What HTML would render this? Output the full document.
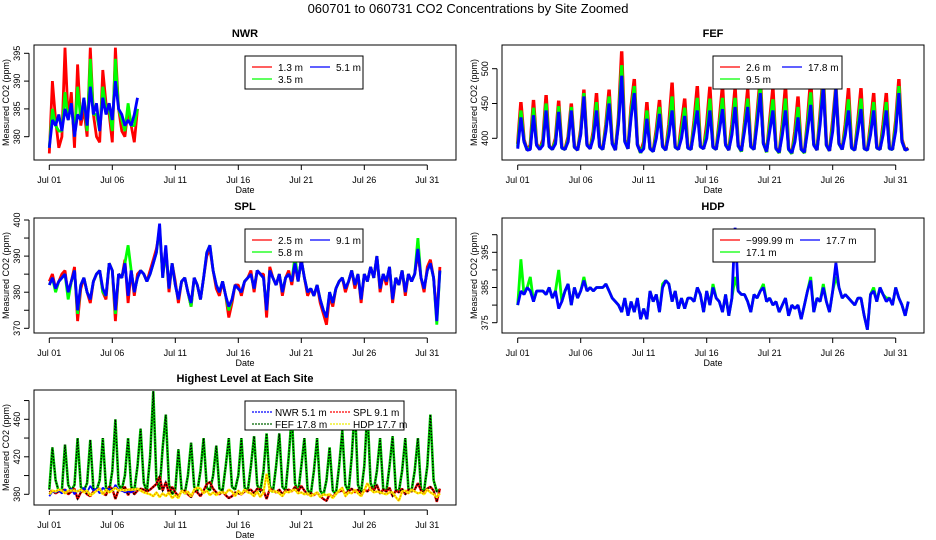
<!DOCTYPE html>
<html><head><meta charset="utf-8"><style>
html,body{margin:0;padding:0;background:#fff}
svg{display:block;font-family:"Liberation Sans",sans-serif}
</style></head><body>
<svg id="c" width="936" height="540" viewBox="0 0 936 540">
<text x="468" y="13" text-anchor="middle" font-size="13">060701  to  060731 CO2 Concentrations by Site Zoomed</text>
</svg>
<script>
const dayTicks = [0,5,10,15,20,25,30];
const dayLabels = ["Jul 01","Jul 06","Jul 11","Jul 16","Jul 21","Jul 26","Jul 31"];
const ptsPerDay = 4;

const nwr13 = [377,390,383,378,380,396,383,388,378,393,382,385,380,396,384,380,379,392,386,384,379,396,385,381,380,385,382,379,385];
const nwr35 = [378,385,382,381,381,388,383,386,380,389,383,387,381,394,384,384,381,389,385,385,381,394,385,383,381,386,382,382,385];
const nwr51 = [378,383,382,384,381,385,383,386,380,384,383,387,382,389,384,386,381,387,384,386,383,390,385,384,382,383,382,384,387];

const fef26 = [392,452,398,383,390,455,392,384,398,462,389,384,400,454,387,384,402,450,388,383,412,470,392,385,410,465,389,384,420,470,394,383,430,525,398,385,445,485,392,379,395,452,386,381,412,455,389,383,420,480,388,384,420,457,387,384,425,475,389,385,420,474,388,384,425,475,392,383,420,472,390,381,422,470,389,384,435,488,394,380,425,472,386,379,420,475,385,378,410,460,385,379,425,485,392,383,435,492,391,382,425,475,393,384,420,472,387,383,425,472,386,383,420,465,387,384,420,465,386,384,425,485,398,383,386];
const fef95 = [388,440,396,383,387,444,391,384,394,450,388,384,396,446,386,384,398,445,387,383,408,465,391,385,405,452,388,384,415,460,393,383,425,505,396,385,437,475,391,379,390,440,385,381,406,445,388,383,412,460,387,384,410,444,386,384,418,458,388,385,410,457,387,384,418,458,391,383,412,458,389,381,416,457,388,384,428,476,393,380,418,456,385,379,412,457,384,378,402,445,384,379,418,466,391,383,428,483,390,382,418,472,392,384,412,456,386,383,418,457,385,383,412,452,386,384,412,452,385,384,418,475,396,383,385];
const fef178 = [385,430,395,383,384,433,390,384,390,440,388,384,392,438,386,384,395,440,387,383,405,460,390,385,400,440,388,384,410,450,392,383,420,490,395,385,430,465,390,380,385,428,385,381,400,435,388,383,405,440,387,384,400,432,386,384,410,440,388,385,400,440,387,384,410,442,390,383,405,445,389,382,410,445,388,384,420,465,392,381,410,440,385,380,405,440,384,379,395,430,384,380,410,448,390,383,420,475,390,382,410,470,392,384,405,440,386,383,410,442,385,383,405,440,386,384,405,440,385,384,410,465,395,383,385];

const spl25 = [383,385,381,383,385,386,379,383,387,372,381,384,380,377,383,385,386,380,378,388,386,372,385,384,389,377,386,379,385,386,385,383,386,389,392,397,385,392,380,388,383,377,383,384,380,376,384,382,378,384,390,392,386,381,379,383,379,373,377,382,382,379,383,384,386,380,386,385,385,373,387,384,382,385,379,384,386,382,388,383,389,384,379,381,379,382,377,374,371,379,376,381,383,384,380,383,386,381,385,377,385,383,387,384,390,380,385,382,387,377,384,382,386,379,385,383,385,391,384,380,387,389,384,373,387];
const spl58 = [382,384,380,383,384,385,378,383,386,374,382,384,380,378,383,385,386,380,379,388,386,374,385,384,388,393,386,380,384,386,385,383,385,388,391,398,384,392,381,388,382,378,383,384,380,376,384,382,378,384,391,393,386,382,380,383,379,375,378,382,381,380,383,384,385,381,386,385,384,375,386,384,382,385,380,384,385,383,390,383,389,384,380,381,379,382,378,375,373,380,377,381,383,384,381,383,386,382,385,378,385,383,387,384,390,381,385,383,387,378,384,382,386,380,385,383,385,395,384,381,386,388,384,371,386];
const spl91 = [382,384,381,383,384,385,380,383,386,375,382,384,380,378,383,385,386,381,379,388,386,375,385,384,388,379,386,380,384,386,385,383,385,388,391,399,384,393,381,388,382,378,383,384,380,377,384,382,378,384,391,393,386,382,380,383,379,376,378,382,381,380,383,384,385,381,386,385,384,375,386,384,382,385,380,384,385,383,388,383,389,384,380,381,379,382,378,375,373,380,377,381,383,384,381,383,386,382,385,378,385,383,387,384,390,381,385,383,387,378,384,382,386,380,385,383,385,392,384,381,386,388,384,372,386];

const hdp171 = [380,393,383,385,388,381,384,384,384,383,385,382,384,390,381,384,386,380,385,382,384,388,384,385,384,385,385,385,386,384,382,381,380,378,382,377,381,378,382,376,379,376,384,381,383,378,386,387,386,381,384,379,382,379,382,382,381,385,383,378,384,380,386,382,381,378,383,377,382,388,384,383,383,381,378,383,382,384,386,381,382,380,381,378,380,382,377,380,379,380,376,380,384,388,378,382,381,386,381,378,384,388,385,382,383,382,381,380,382,382,377,373,383,385,381,385,383,382,382,380,385,382,380,377,381];
const hdp177 = [380,384,383,385,384,381,384,384,384,383,385,382,384,379,381,384,386,380,385,382,384,387,384,385,384,385,385,385,386,384,382,381,380,378,382,377,381,378,382,376,379,376,384,381,383,378,385,387,386,381,384,379,382,379,382,382,381,385,383,378,384,380,385,382,381,378,383,377,382,402,384,383,383,381,378,383,382,384,385,381,382,380,381,378,380,382,377,380,379,380,376,380,384,387,378,382,381,385,381,378,384,392,385,382,383,382,381,380,382,382,377,373,383,384,381,385,383,381,382,380,385,382,380,377,381];

const NS = "http://www.w3.org/2000/svg";
const svg = document.getElementById("c");
function mk(tag, attrs, parent){
  const e = document.createElementNS(NS, tag);
  for (const k in attrs) e.setAttribute(k, attrs[k]);
  (parent||svg).appendChild(e);
  return e;
}

function panel(cfg){
  const g = mk("g", {});
  
  
  const L=cfg.left, R=cfg.left+422, T=cfg.top, B=cfg.top+115;
  const xs = d => cfg.x0 + d*12.6;
  const ys = v => cfg.y0 + (v - cfg.v0) * (cfg.y1 - cfg.y0) / (cfg.v1 - cfg.v0);
  const t = mk("text", {x:(L+R)/2, y:T-8, "text-anchor":"middle", "font-size":"11", "font-weight":"bold"}, g);
  t.textContent = cfg.title;
  
  
  const clip = mk("clipPath", {id:"cl"+cfg.name}, g);
  mk("rect", {x:L, y:T, width:R-L, height:B-T}, clip);
  const sg = mk("g", {"clip-path":"url(#cl"+cfg.name+")"}, g);
  cfg.series.forEach(s => {
    const pts = s.data.map((v,i) => xs(i/ptsPerDay).toFixed(1)+","+ys(v).toFixed(1)).join(" ");
    const p = mk("polyline", {points:pts, fill:"none", stroke:s.color, "stroke-width":s.w||2.8, "stroke-linejoin":"bevel"}, sg);
    
    
    if (s.dash) {
      const p2 = mk("polyline", {points:pts, fill:"none", stroke:s.dash, "stroke-width":1.4, "stroke-dasharray":"1.5,1.5"}, sg);
      
      
    }
  });
  const box = mk("rect", {x:L, y:T, width:R-L, height:B-T, fill:"none", stroke:"#000", "stroke-width":1}, g);
  
  
  mk("line", {x1:xs(dayTicks[0]), x2:xs(dayTicks[dayTicks.length-1]), y1:B+5, y2:B+5, stroke:"#000"}, g);
  dayTicks.forEach((d,i) => {
    mk("line", {x1:xs(d), x2:xs(d), y1:B+5, y2:B+10, stroke:"#000"}, g);
    const tl = mk("text", {x:xs(d), y:B+23, "text-anchor":"middle", "font-size":"9"}, g);
    tl.textContent = dayLabels[i];
    
    
  });
  const xt = mk("text", {x:(L+R)/2, y:B+33, "text-anchor":"middle", "font-size":"9"}, g);
  xt.textContent = "Date";
  
  
  mk("line", {x1:L-5, x2:L-5, y1:ys(cfg.ticks[0]), y2:ys(cfg.ticks[cfg.ticks.length-1]), stroke:"#000"}, g);
  cfg.ticks.forEach(v => {
    mk("line", {x1:L-10, x2:L-5, y1:ys(v), y2:ys(v), stroke:"#000"}, g);
    if (cfg.labels.includes(v)) {
      const yl = mk("text", {x:0, y:0, "text-anchor":"middle", "font-size":"9", transform:"translate("+(L-14)+","+ys(v)+") rotate(-90)"}, g);
      yl.textContent = v;
      
      
    }
  });
  const yt = mk("text", {x:0, y:0, "text-anchor":"middle", "font-size":"9", transform:"translate("+(L-25)+","+(T+B)/2+") rotate(-90)"}, g);
  yt.textContent = "Measured CO2 (ppm)";
  
  
  const lg = cfg.legend;
  const lb = mk("rect", {x:lg.x, y:lg.y, width:lg.w, height:lg.h, fill:"#fff", stroke:"#000"}, g);
  
  
  lg.items.forEach((it,i) => {
    const col = i<2 ? 0 : 1, row = i%2;
    const ix = lg.x + 7 + col*lg.colW, iy = lg.y + 11 + row*lg.rowH;
    mk("line", {x1:ix, x2:ix+20, y1:iy, y2:iy, stroke:it.color, "stroke-width":1.2, "stroke-dasharray":it.dash?"2,1":"none"}, g);
    const tx = mk("text", {x:ix+lg.tOff, y:iy+4, "font-size":"10"}, g);
    tx.textContent = it.label;
    
    
  });
}

panel({name:"nwr", title:"NWR", left:34, top:45, x0:49.3, v0:380, y0:136.7, v1:395, y1:53.3,
  ticks:[380,385,390,395], labels:[380,385,390,395],
  series:[{id:"nwr-1-3m",data:nwr13,color:"#f00"},{id:"nwr-3-5m",data:nwr35,color:"#0f0"},{id:"nwr-5-1m",data:nwr51,color:"#00f"}],
  legend:{x:245,y:56,w:118,h:33,colW:58,rowH:12,tOff:26,items:[{label:"1.3 m",color:"#f00"},{label:"3.5 m",color:"#0f0"},{label:"5.1 m",color:"#00f"}]}});

panel({name:"fef", title:"FEF", left:502, top:45, x0:517.7, v0:400, y0:138.3, v1:500, y1:68.7,
  ticks:[400,450,500], labels:[400,450,500],
  series:[{id:"fef-2-6m",data:fef26,color:"#f00",w:3.4},{id:"fef-9-5m",data:fef95,color:"#0f0",w:3.2},{id:"fef-17-8m",data:fef178,color:"#00f",w:3}],
  legend:{x:713,y:56,w:129,h:33,colW:62,rowH:12,tOff:26,items:[{label:"2.6 m",color:"#f00"},{label:"9.5 m",color:"#0f0"},{label:"17.8 m",color:"#00f"}]}});

panel({name:"spl", title:"SPL", left:34, top:218, x0:49.3, v0:370, y0:328.3, v1:400, y1:220,
  ticks:[370,375,380,385,390,395,400], labels:[370,380,390,400],
  series:[{id:"spl-2-5m",data:spl25,color:"#f00"},{id:"spl-5-8m",data:spl58,color:"#0f0"},{id:"spl-9-1m",data:spl91,color:"#00f"}],
  legend:{x:245,y:229,w:118,h:33,colW:58,rowH:12,tOff:26,items:[{label:"2.5 m",color:"#f00"},{label:"5.8 m",color:"#0f0"},{label:"9.1 m",color:"#00f"}]}});

panel({name:"hdp", title:"HDP", left:502, top:218, x0:517.7, v0:375, y0:322.7, v1:395, y1:252.3,
  ticks:[375,380,385,390,395,400], labels:[375,385,395],
  series:[{id:"hdp-17-1m",data:hdp171,color:"#0f0"},{id:"hdp-17-7m",data:hdp177,color:"#00f"}],
  legend:{x:713,y:229,w:162,h:33,colW:80,rowH:12,tOff:26,items:[{label:"\u2212999.99 m",color:"#f00"},{label:"17.1 m",color:"#0f0"},{label:"17.7 m",color:"#00f"}]}});

panel({name:"highest", title:"Highest Level at Each Site", left:34, top:390, x0:49.3, v0:380, y0:494.3, v1:460, y1:419.3,
  ticks:[380,400,420,440,460,480], labels:[380,420,460],
  series:[{id:"highest-fef",data:fef178,color:"#0c0",w:2.6,dash:"#000"},{id:"highest-spl",data:spl91,color:"#e00",w:2.4,dash:"#000"},{id:"highest-nwr",data:nwr51,color:"#00f",w:1.8},{id:"highest-hdp",data:hdp177,color:"#ff0",w:2.4,dash:"#e80"}],
  legend:{x:245,y:401,w:159,h:29,colW:78,rowH:12,tOff:23,items:[{label:"NWR  5.1 m",color:"#00f",dash:1},{label:"FEF  17.8 m",color:"#060",dash:1},{label:"SPL  9.1 m",color:"#f00",dash:1},{label:"HDP  17.7 m",color:"#ee0",dash:1}]}});
</script>
</body></html>
